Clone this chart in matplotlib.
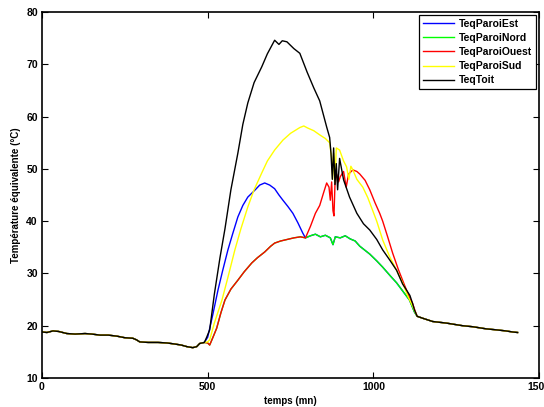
import numpy as np
import matplotlib
matplotlib.use('Agg')
import matplotlib.pyplot as plt

plt.rcParams['font.family'] = ['Liberation Sans', 'DejaVu Sans']

# shared night-time segments (all curves identical there)
base_t = [0, 15, 33, 50, 75, 100, 130, 150, 175, 200, 226, 250, 274, 285, 295, 320, 350, 377, 400, 420, 437, 455, 467, 476, 490]
base_y = [18.8, 18.7, 19.0, 18.9, 18.5, 18.4, 18.5, 18.4, 18.2, 18.2, 18.0, 17.7, 17.6, 17.3, 16.9, 16.8, 16.8, 16.7, 16.5, 16.3, 16.0, 15.8, 16.0, 16.6, 16.8]
tail_t = [1132, 1150, 1179, 1220, 1269, 1300, 1340, 1372, 1400, 1420, 1435]
tail_y = [21.8, 21.4, 20.8, 20.5, 20.0, 19.8, 19.4, 19.2, 19.0, 18.8, 18.7]

# TeqParoiEst (before it merges with the north wall)
est_t = [500, 515, 531, 545, 561, 575, 591, 606, 621, 642, 657, 672, 687, 702, 715, 727, 742, 757, 772, 787, 795]
est_y = [17.8, 22.0, 26.8, 30.5, 34.5, 37.5, 40.8, 43.0, 44.6, 45.9, 46.9, 47.3, 46.9, 46.2, 45.0, 44.0, 42.8, 41.5, 39.7, 37.7, 36.8]

# TeqParoiNord (afternoon part, morning part equals Ouest)
nord_t = [810, 825, 840, 855, 870, 878, 885, 900, 915, 930, 945, 959, 975, 989, 1010, 1028, 1050, 1070, 1090, 1109, 1124]
nord_y = [37.2, 37.5, 37.0, 37.3, 36.8, 35.5, 37.0, 36.8, 37.2, 36.6, 36.2, 35.2, 34.4, 33.7, 32.4, 31.2, 29.6, 28.2, 26.5, 24.9, 22.6]

# TeqParoiOuest
ouest_am_t = [500, 506, 516, 527, 540, 552, 570, 591, 610, 633, 650, 672, 690, 702, 720, 740, 760, 780, 795]
ouest_am_y = [16.7, 16.3, 17.8, 19.5, 22.5, 24.9, 27.0, 28.7, 30.3, 32.0, 33.0, 34.1, 35.2, 35.8, 36.2, 36.5, 36.8, 37.0, 36.8]
ouest_pm_t = [810, 825, 838, 850, 859, 866, 870, 874, 878, 881, 884, 889, 895, 900, 910, 918, 925, 938, 950, 959, 975, 989, 1005, 1019, 1028, 1043, 1058, 1075, 1088, 1100, 1110, 1118, 1126]
ouest_pm_y = [39.0, 41.5, 43.0, 45.5, 47.3, 46.5, 44.0, 47.5, 42.0, 41.0, 47.0, 49.0, 47.5, 48.5, 49.5, 46.5, 49.0, 49.8, 49.5, 49.0, 47.8, 46.0, 43.5, 41.5, 40.0, 37.0, 33.9, 30.8, 28.7, 26.8, 25.2, 24.3, 22.8]

# TeqParoiSud
sud_t = [500, 506, 520, 543, 560, 582, 600, 621, 640, 663, 680, 702, 727, 750, 778, 790, 802, 820, 838, 855, 868, 874, 877, 880, 884, 888, 898, 910, 919, 926, 932, 938, 950, 968, 983, 998, 1010, 1028, 1049, 1070, 1088, 1105, 1118, 1126]
sud_y = [16.9, 17.3, 20.5, 24.9, 29.0, 34.5, 38.5, 42.7, 46.0, 49.2, 51.5, 53.6, 55.5, 56.8, 57.9, 58.2, 57.8, 57.3, 56.5, 55.8, 55.0, 52.0, 48.0, 53.0, 47.5, 54.0, 53.6, 51.5, 50.4, 48.0, 50.5, 49.8, 48.0, 46.5, 44.5, 42.0, 40.0, 36.4, 33.2, 30.6, 28.2, 25.5, 23.8, 22.6]

# TeqToit
toit_t = [497, 506, 520, 537, 552, 570, 591, 606, 621, 640, 663, 680, 702, 715, 725, 739, 760, 778, 800, 820, 838, 859, 868, 872, 876, 880, 884, 888, 892, 898, 910, 928, 950, 970, 989, 1010, 1028, 1050, 1070, 1088, 1100, 1110, 1118, 1124]
toit_y = [17.8, 19.2, 26.0, 33.0, 38.5, 46.0, 53.0, 58.5, 62.6, 66.5, 69.5, 72.0, 74.6, 73.8, 74.5, 74.3, 73.0, 72.1, 68.5, 65.5, 63.0, 58.0, 56.0, 53.0, 48.0, 54.0, 47.0, 51.0, 46.0, 52.0, 47.9, 44.6, 41.5, 39.5, 38.3, 36.5, 34.5, 32.5, 30.6, 28.0, 26.8, 25.8, 24.3, 23.0]


def full(*parts):
    t = np.concatenate([p[0] for p in parts])
    y = np.concatenate([p[1] for p in parts])
    return t, y


series = {
    'TeqParoiEst': (full((base_t, base_y), (est_t, est_y), (nord_t, nord_y), (tail_t, tail_y)), (0, 0, 1)),
    'TeqParoiNord': (full((base_t, base_y), (ouest_am_t, ouest_am_y), (nord_t, nord_y), (tail_t, tail_y)), (0, 1, 0)),
    'TeqParoiOuest': (full((base_t, base_y), (ouest_am_t, ouest_am_y), (ouest_pm_t, ouest_pm_y), (tail_t, tail_y)), (1, 0, 0)),
    'TeqParoiSud': (full((base_t, base_y), (sud_t, sud_y), (tail_t, tail_y)), (1, 1, 0)),
    'TeqToit': (full((base_t, base_y), (toit_t, toit_y), (tail_t, tail_y)), (0, 0, 0)),
}

fig = plt.figure(figsize=(5.44, 4.07), dpi=100)
ax = fig.add_axes([0.0772, 0.0713, 0.9138, 0.8992])

for name, ((t, y), color) in series.items():
    ax.plot(t, y, color=color, lw=1.0, label=name)

ax.set_xlim(0, 1500)
ax.set_ylim(10, 80)
ax.set_xticks([0, 500, 1000, 1500])
ax.set_yticks(range(10, 81, 10))
ax.tick_params(direction='in', length=4, width=0.8, top=True, right=True,
               labelsize=7.5, pad=3)
for lab in ax.get_xticklabels() + ax.get_yticklabels():
    lab.set_fontweight('bold')
for sp in ax.spines.values():
    sp.set_linewidth(1.2)

ax.set_xlabel('temps (mn)', fontsize=7, fontweight='bold', labelpad=3)
ax.set_ylabel('Température équivalente (°C)', fontsize=7, fontweight='bold', labelpad=4)

leg = ax.legend(loc='upper right', prop={'weight': 'bold', 'size': 7.5},
                fancybox=False, edgecolor='black', framealpha=1,
                handlelength=3.0, borderaxespad=0.3, labelspacing=0.4,
                borderpad=0.35, handletextpad=0.5)
leg.get_frame().set_linewidth(0.9)

fig.savefig('out.png', dpi=100)
